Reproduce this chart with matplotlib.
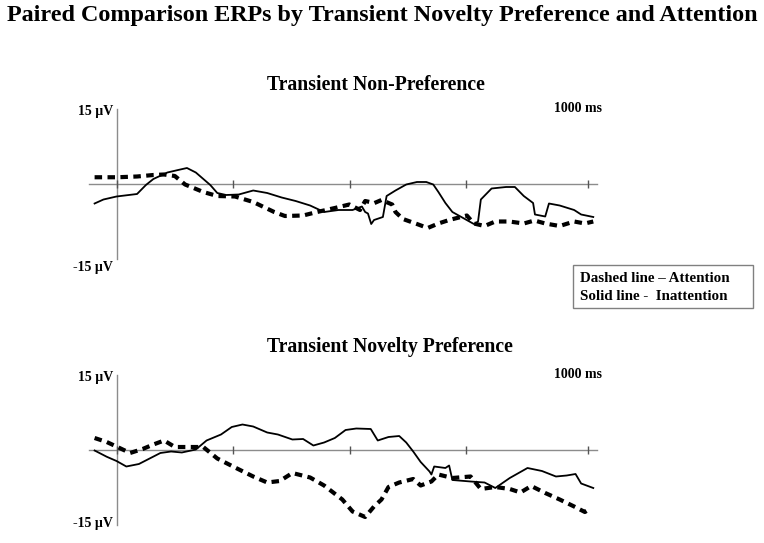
"""Paired comparison ERP waveforms, two panels (non-preference / novelty preference)."""
import matplotlib
matplotlib.use("Agg")
import matplotlib.pyplot as plt
from matplotlib.patches import Rectangle

# time (ms) and amplitude (uV)
t_np_inatt = [-47, -28, 0, 44, 63, 79, 109, 132, 151, 170, 201, 216, 235, 262, 293, 323, 354,
              384, 415, 445, 476, 506, 526, 533, 539, 546, 552, 571, 579, 598, 621, 644, 664,
              679, 690, 705, 720, 743, 766, 775, 781, 804, 835, 854, 873, 893, 897, 919, 927,
              950, 981, 996, 1022]
v_np_inatt = [-3.9, -3.1, -2.5, -2.0, -0.2, 1.0, 2.3, 2.8, 3.2, 2.3, -0.2, -1.8, -2.2, -2.1,
              -1.3, -1.8, -2.7, -3.4, -4.3, -5.6, -5.2, -5.2, -4.5, -5.6, -5.9, -8.0, -7.2,
              -6.6, -2.4, -1.3, -0.1, 0.4, 0.4, -0.1, -1.6, -3.8, -5.6, -6.8, -8.0, -7.5, -3.1,
              -0.9, -0.6, -0.6, -2.4, -3.8, -6.1, -6.5, -3.9, -4.3, -5.2, -6.1, -6.6]

t_np_att = [-47, 2, 44, 79, 102, 125, 147, 186, 216, 254, 293, 338, 361, 400, 430, 468, 499,
            522, 533, 553, 568, 591, 598, 614, 644, 667, 690, 713, 751, 766, 789, 812, 842,
            873, 896, 919, 950, 981, 1004, 1022]
v_np_att = [1.35, 1.35, 1.5, 1.8, 1.9, 1.6, -0.1, -1.6, -2.4, -2.5, -3.6, -5.6, -6.4, -6.3,
            -5.6, -4.8, -4.1, -5.2, -3.4, -3.8, -3.2, -4.1, -5.6, -7.0, -8.0, -8.8, -7.9, -7.2,
            -6.3, -7.9, -8.4, -7.5, -7.5, -7.9, -7.3, -7.9, -8.4, -7.5, -7.9, -7.5]

t_pref_inatt = [-47, -21, 0, 21, 48, 71, 94, 117, 140, 170, 193, 224, 247, 270, 293, 323, 346,
                377, 400, 422, 445, 468, 491, 514, 545, 560, 583, 606, 621, 636, 652, 671, 675,
                681, 705, 713, 720, 759, 789, 812, 843, 881, 912, 942, 965, 984, 996, 1022]
v_pref_inatt = [-0.1, -1.35, -2.2, -3.3, -2.8, -1.7, -0.6, -0.3, -0.5, 0.1, 1.9, 3.1, 4.6, 5.1,
                4.7, 3.5, 3.1, 2.1, 2.2, 0.9, 1.5, 2.4, 4.0, 4.3, 4.2, 1.9, 2.6, 2.8, 1.5, -0.3,
                -2.4, -4.3, -4.9, -3.3, -3.6, -3.1, -6.0, -6.3, -6.5, -7.6, -5.6, -3.6, -4.2,
                -5.3, -5.1, -4.8, -6.7, -7.6]

t_pref_att = [-47, -21, 2, 29, 56, 79, 102, 125, 163, 186, 216, 254, 293, 323, 350, 377, 415,
              445, 484, 506, 533, 552, 568, 583, 606, 636, 652, 675, 690, 720, 759, 781, 812,
              843, 866, 889, 919, 950, 981, 1004, 1011]
v_pref_att = [2.4, 1.6, 0.6, -0.6, 0.2, 1.1, 1.9, 0.6, 0.6, 0.6, -1.7, -3.5, -5.3, -6.5, -6.2,
              -4.6, -5.5, -7.1, -9.9, -12.3, -13.4, -11.3, -9.9, -7.4, -6.5, -5.8, -7.1, -6.3,
              -4.9, -5.6, -5.3, -7.8, -7.4, -7.8, -8.5, -7.2, -8.6, -9.9, -11.3, -12.4, -12.0]

panels = [
    ("Transient Non-Preference", t_np_att, v_np_att, t_np_inatt, v_np_inatt),
    ("Transient Novelty Preference", t_pref_att, v_pref_att, t_pref_inatt, v_pref_inatt),
]
tick_ms = [0, 250, 500, 750, 1010]

W, H = 764, 543
fig = plt.figure(figsize=(W / 100, H / 100), dpi=100)
plt.rcParams["font.family"] = ["Liberation Serif", "DejaVu Serif"]


def fx(px):
    return px / W


def fy(py):
    return 1 - py / H


def ftext(x, y, s, size, ha="left"):
    fig.text(fx(x), fy(y), s, fontsize=size, fontweight="bold", ha=ha, va="center")


ftext(382, 15, "Paired Comparison ERPs by Transient Novelty Preference and Attention", 17.4, ha="center")

# pixel layout of each panel: axis top, axis bottom, title y, -15 label y
boxes = [(109, 259, 85, 267), (375, 525, 347, 524)]
for (title, ta, va, ti, vi), (top, bot, ty, ly) in zip(panels, boxes):
    ax = fig.add_axes([fx(89), fy(bot), fx(597) - fx(89), (bot - top) / H])
    ax.plot(ti, vi, color="black", lw=1.3)
    ax.plot(ta, va, color="black", lw=3.0, dashes=(1.8, 1.3))
    ax.set_xlim(-59, 1030)
    ax.set_ylim(-15, 15)
    ax.patch.set_alpha(0)
    for side in ("top", "right"):
        ax.spines[side].set_visible(False)
    ax.spines["left"].set_position(("data", 0))
    ax.spines["bottom"].set_position(("data", 0))
    for side in ("left", "bottom"):
        ax.spines[side].set_color("#8c8c8c")
        ax.spines[side].set_linewidth(1.0)
        ax.spines[side].set_zorder(0)
    ax.set_yticks([])
    ax.set_xticks(tick_ms)
    ax.set_xticklabels([])
    ax.tick_params(axis="x", direction="inout", length=6, width=1.0, color="#555555")

    ftext(267, ty, title, 14.2)
    ftext(113, top + 2, "15 µV", 10, ha="right")
    ftext(113, ly, "-15 µV", 10, ha="right")
    ftext(578, top, "1000 ms", 10, ha="center")

# legend box
fig.patches.append(Rectangle((fx(573), fy(308)), fx(753) - fx(573), (308 - 265) / H,
                             transform=fig.transFigure, fill=False, ec="#808080", lw=1.0))
ftext(580, 279, "Dashed line – Attention", 10.8)
ftext(580, 296, "Solid line -  Inattention", 10.8)

fig.savefig("out.png", dpi=100)
